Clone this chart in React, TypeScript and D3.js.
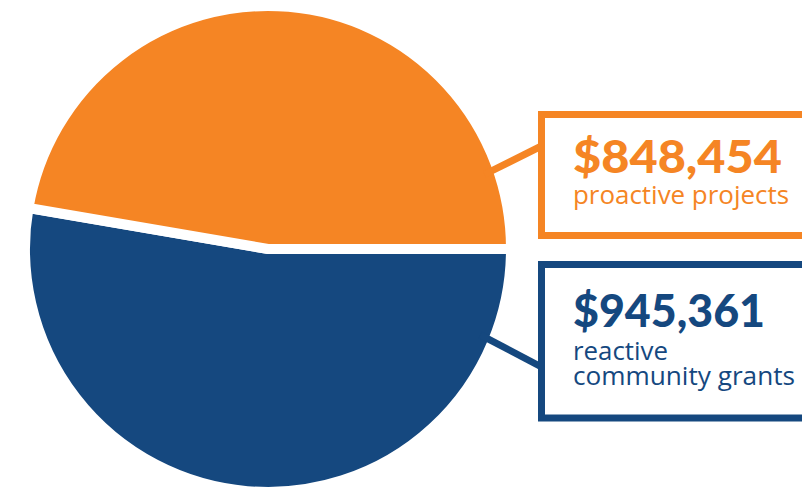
import React, { useEffect, useRef } from "react";
import * as d3 from "d3";

// Chart data
const categories = ["proactive projects", "reactive community grants"];
const amounts = [848454, 945361];
const amountLabels = ["$848,454", "$945,361"];
const labelLines = [["proactive projects"], ["reactive", "community grants"]];
const colors = ["#f58524", "#15487f"];

const WIDTH = 802;
const HEIGHT = 489;

// Layout for each callout (index matches categories)
const callouts = [
	{ boxY: 114.5, boxH: 121, amountY: 173, amountLen: 209, lineY: [204], lineLen: [216], edgeAngle: 71, endY: 146 },
	{ boxY: 264.5, boxH: 153.5, amountY: 327, amountLen: 192, lineY: [360, 385], lineLen: [95, 222], edgeAngle: 112, endY: 367 },
];

const App: React.FC = () => {
	const svgRef = useRef<SVGSVGElement | null>(null);

	useEffect(() => {
		const svgEl = svgRef.current;
		if (!svgEl) return;
		const svg = d3.select(svgEl);
		svg.selectAll("*").remove();

		const cx = 268;
		const cy = 249;
		const outerR = 243;

		// blue slice starts at 3 o'clock going clockwise, orange follows back to 3 o'clock
		const order = [1, 0];
		const pie = d3
			.pie<number>()
			.sort(null)
			.value((i) => amounts[i])
			.startAngle(Math.PI / 2)
			.endAngle(Math.PI / 2 + 2 * Math.PI);

		const arc = d3.arc<d3.PieArcDatum<number>>().innerRadius(0).outerRadius(outerR);

		const g = svg.append("g").attr("transform", `translate(${cx},${cy})`);

		g.selectAll("path.slice")
			.data(pie(order))
			.join("path")
			.attr("class", "slice")
			.attr("d", arc)
			.attr("fill", (d) => colors[d.data])
			.attr("stroke", "#ffffff")
			.attr("stroke-width", 10)
			.attr("stroke-linejoin", "miter");

		const boxX = 541.5;
		const textX = 573;

		categories.forEach((cat, i) => {
			const c = callouts[i];
			const a = (c.edgeAngle * Math.PI) / 180;
			const r0 = outerR - 14;
			const sx = cx + r0 * Math.sin(a);
			const sy = cy - r0 * Math.cos(a);

			svg.append("line")
				.attr("x1", sx)
				.attr("y1", sy)
				.attr("x2", boxX)
				.attr("y2", c.endY)
				.attr("stroke", colors[i])
				.attr("stroke-width", 7);

			svg.append("rect")
				.attr("x", boxX)
				.attr("y", c.boxY)
				.attr("width", 320)
				.attr("height", c.boxH)
				.attr("fill", "#ffffff")
				.attr("stroke", colors[i])
				.attr("stroke-width", 7);

			svg.append("text")
				.attr("x", textX)
				.attr("y", c.amountY)
				.attr("fill", colors[i])
				.attr("font-family", "Lato, 'Open Sans', sans-serif")
				.attr("font-weight", 900)
				.attr("font-size", 46)
				.attr("textLength", c.amountLen)
				.attr("lengthAdjust", "spacingAndGlyphs")
				.text(amountLabels[i]);

			labelLines[i].forEach((ln, j) => {
				svg.append("text")
					.attr("x", textX)
					.attr("y", c.lineY[j])
					.attr("fill", colors[i])
					.attr("font-family", "'Open Sans', 'Noto Sans', sans-serif")
					.attr("font-weight", 400)
					.attr("font-size", 26)
					.attr("textLength", c.lineLen[j])
					.attr("lengthAdjust", "spacingAndGlyphs")
					.text(ln);
			});
			svg.attr("aria-label", categories.join(" / "));
		});
	}, []);

	return (
		<div style={{ position: "fixed", left: 0, top: 0, width: WIDTH, height: HEIGHT, background: "#ffffff" }}>
			<svg ref={svgRef} width={WIDTH} height={HEIGHT} style={{ display: "block" }} />
		</div>
	);
};

export default App;
